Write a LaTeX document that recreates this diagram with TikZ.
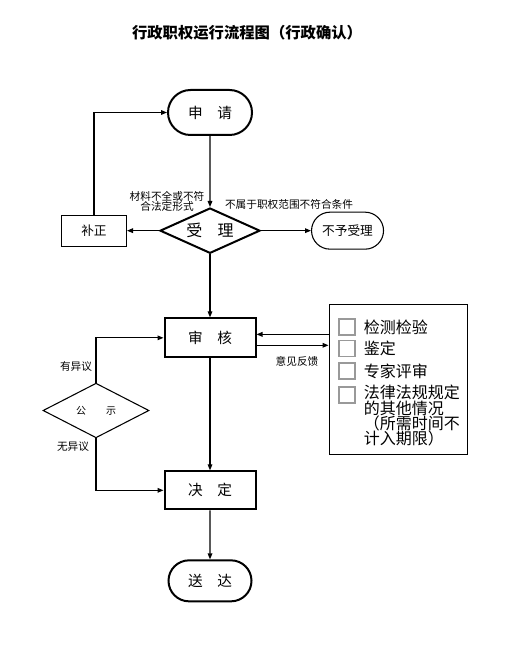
\documentclass[tikz,border=0pt]{standalone}
\usepackage{fontspec}
\setmainfont{Noto Sans CJK SC}
\usetikzlibrary{positioning,shapes.geometric,shapes.misc,arrows.meta}

\begin{document}
\begin{tikzpicture}[x=0.75pt,y=-0.75pt,
    >={Triangle[length=4.5pt,width=3.5pt]},
    every node/.style={inner sep=0pt},
    stadium/.style={rounded rectangle,draw,line width=1.5pt,font=\fontsize{11}{13}\selectfont},
    bigbox/.style={rectangle,draw,line width=1.5pt,font=\fontsize{11}{13}\selectfont},
    smallbox/.style={rectangle,draw,line width=0.8pt,font=\fontsize{9.5}{11}\selectfont},
    decision/.style={diamond,draw,line width=1.5pt,font=\fontsize{12}{13}\selectfont},
    note/.style={font=\fontsize{8}{7.5}\selectfont},
    chk/.style={rectangle,draw=gray!80,line width=0.8pt,minimum size=12pt},
    item/.style={font=\fontsize{12}{11.5}\selectfont},
    flow/.style={->,line width=0.8pt}]

    \useasboundingbox (0,0) rectangle (505,655);

    \node (title) at (247,33) {\fontsize{11.5}{12}\selectfont\bfseries 行政职权运行流程图（行政确认）};

    \node [stadium,minimum width=63pt,minimum height=33.75pt] (shenqing) at (210,112.5) {申\hspace{1em}请};
    \node [decision,aspect=2.2,minimum width=75pt,minimum height=34pt] (shouli) [below=53.25pt of shenqing] {受\hspace{0.95em}理};
    \node [smallbox,minimum width=48.75pt,minimum height=23.25pt] (buzheng) [left=24pt of shouli] {补正};
    \node [stadium,line width=0.8pt,font=\fontsize{9.5}{11}\selectfont,minimum width=54pt,minimum height=27.75pt] (buyu) [right=37.5pt of shouli] {不予受理};
    \node [bigbox,minimum width=68.25pt,minimum height=29.25pt] (shenhe) [below=47.25pt of shouli] {审\hspace{1em}核};
    \node [bigbox,minimum width=68.25pt,minimum height=28.5pt] (jueding) [below=84pt of shenhe] {决\hspace{1em}定};
    \node [stadium,minimum width=62.25pt,minimum height=30.75pt] (songda) [below=36.75pt of jueding] {送\hspace{1em}达};
    \node [diamond,draw,line width=0.8pt,aspect=2,minimum width=79.5pt,minimum height=41pt,
           font=\fontsize{7.5}{8}\selectfont] (gongshi) at (96,410.5) {公\hspace{2em}示};

    \node [smallbox,line width=0.7pt,minimum width=103.5pt,minimum height=112.5pt] (qita) at (398,379) {};
    \node [chk] (cb1) at (347,327) {};
    \node [chk] (cb2) at (347,348.5) {};
    \node [chk] (cb3) at (347,371) {};
    \node [chk] (cb4) at (347,395) {};
    \node [item,right=6pt of cb1] (jiance) {检测检验};
    \node [item,right=6pt of cb2] (jianding) {鉴定};
    \node [item,right=6pt of cb3] (zhuanjia) {专家评审};
    \node [item,anchor=north west,align=left] (falv) at ([xshift=6pt,yshift=1pt]cb4.north east)
        {法律法规规定\\的其他情况\\（所需时间不\\计入期限）};

    \node [note,align=center] (cailiao) at (167,201) {材料不全或不符\\合法定形式};
    \node [note] (bushu) at (289,204) {不属于职权范围不符合条件};
    \node [note] (yijian) at (297,361) {意见反馈};
    \node [note] (youyiyi) at (76,366) {有异议};
    \node [note] (wuyiyi) at (73,447) {无异议};

    \draw [flow] (shenqing) -- (shouli);
    \draw [flow] (shouli) -- (buzheng);
    \draw [flow] (buzheng) |- (shenqing);
    \draw [flow] (shouli) -- (buyu);
    \draw [flow] (shouli) -- (shenhe);
    \draw [flow] ([yshift=2.6pt]shenhe.east -| qita.west) -- ([yshift=2.6pt]shenhe.east);
    \draw [flow] ([yshift=-5.6pt]shenhe.east) -- ([yshift=-5.6pt]shenhe.east -| qita.west);
    \draw [flow] (shenhe) -- (jueding);
    \draw [flow] (jueding) -- (songda);
    \draw [flow] (gongshi) |- (shenhe);
    \draw [flow] (gongshi) |- (jueding);
\end{tikzpicture}
\end{document}
